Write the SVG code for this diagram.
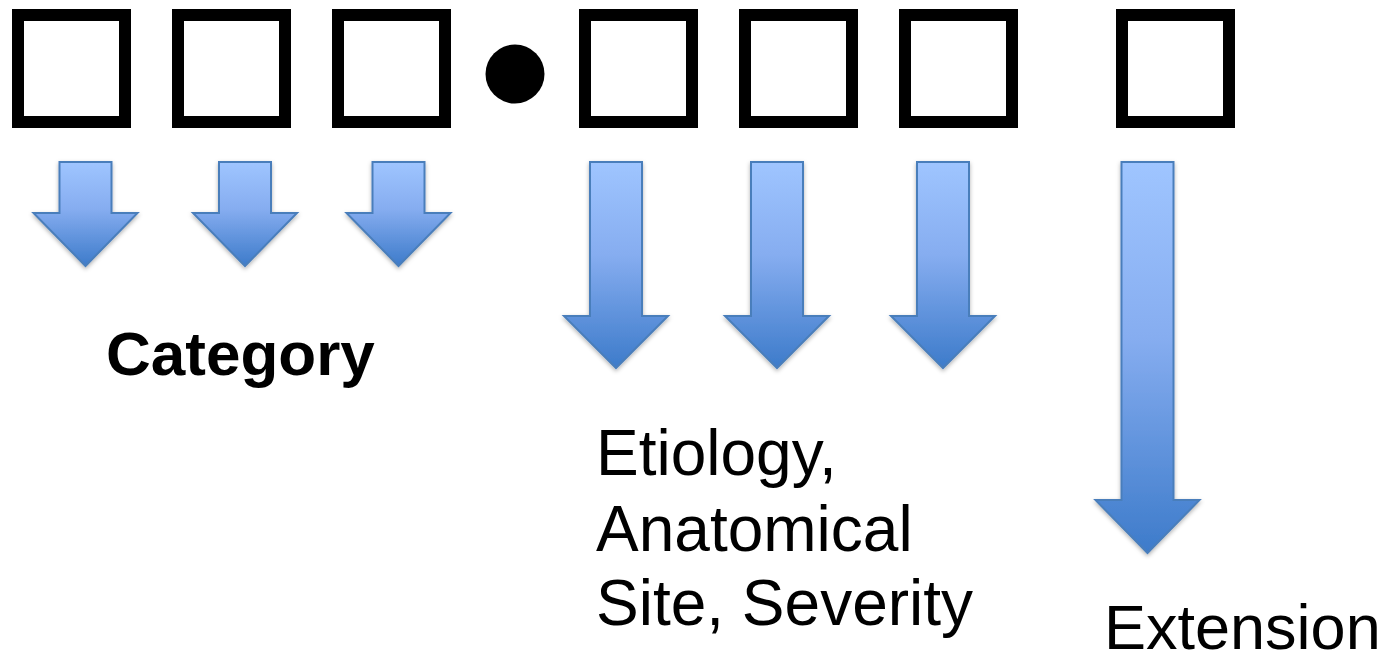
<svg xmlns="http://www.w3.org/2000/svg" width="1395" height="656" viewBox="0 0 1395 656">
  <defs>
    <linearGradient id="blueGrad" x1="0" y1="0" x2="0" y2="1">
      <stop offset="0" stop-color="#9fc5ff"/>
      <stop offset="0.45" stop-color="#86adf0"/>
      <stop offset="1" stop-color="#3d7bca"/>
    </linearGradient>
    <filter id="shadow" x="-20%" y="-10%" width="140%" height="130%">
      <feDropShadow dx="0" dy="2" stdDeviation="2" flood-color="#000000" flood-opacity="0.3"/>
    </filter>
    <style>
      .box { fill: #ffffff; stroke: #000000; stroke-width: 12; }
      .arrow { fill: url(#blueGrad); stroke: #4a7ebb; stroke-width: 2; stroke-linejoin: miter; filter: url(#shadow); }
      .lbl { font-family: "Liberation Sans", Arial, sans-serif; fill: #000000; }
      .bold { font-weight: bold; }
    </style>
  </defs>
  <rect width="1395" height="656" fill="#ffffff"/>

  <g id="box1"><rect class="box" x="18" y="15" width="107" height="107"/></g>
  <g id="box2"><rect class="box" x="178" y="15" width="107" height="107"/></g>
  <g id="box3"><rect class="box" x="338" y="15" width="107" height="107"/></g>
  <g id="dot"><circle cx="515" cy="74" r="29.5" fill="#000000"/></g>
  <g id="box4"><rect class="box" x="585" y="15" width="107" height="107"/></g>
  <g id="box5"><rect class="box" x="745" y="15" width="107" height="107"/></g>
  <g id="box6"><rect class="box" x="905" y="15" width="107" height="107"/></g>
  <g id="box7"><rect class="box" x="1122" y="15" width="107" height="107"/></g>

  <g id="connectors">
    <path class="arrow" d="M59.5 162 H111.5 V213 H137.5 L85.5 266 L33.5 213 H59.5 Z"/>
    <path class="arrow" d="M219 162 H271 V213 H297 L245 266 L193 213 H219 Z"/>
    <path class="arrow" d="M372.5 162 H424.5 V213 H450.5 L398.5 266 L346.5 213 H372.5 Z"/>
    <path class="arrow" d="M590 162 H642 V316 H668 L616 368 L564 316 H590 Z"/>
    <path class="arrow" d="M751 162 H803 V316 H829 L777 368 L725 316 H751 Z"/>
    <path class="arrow" d="M917 162 H969 V316 H995 L943 368 L891 316 H917 Z"/>
    <path class="arrow" d="M1121.5 162 H1173.5 V500 H1199.5 L1147.5 553 L1095.5 500 H1121.5 Z"/>
  </g>

  <g id="label-category"><text class="lbl bold" x="106" y="375" font-size="62">Category</text></g>
  <g id="label-etiology">
    <text class="lbl" x="596" y="475" font-size="64">Etiology,</text>
    <text class="lbl" x="596" y="551" font-size="64">Anatomical</text>
    <text class="lbl" x="596" y="625" font-size="64">Site, Severity</text>
  </g>
  <g id="label-extension"><text class="lbl" x="1104" y="649" font-size="63">Extension</text></g>
</svg>
